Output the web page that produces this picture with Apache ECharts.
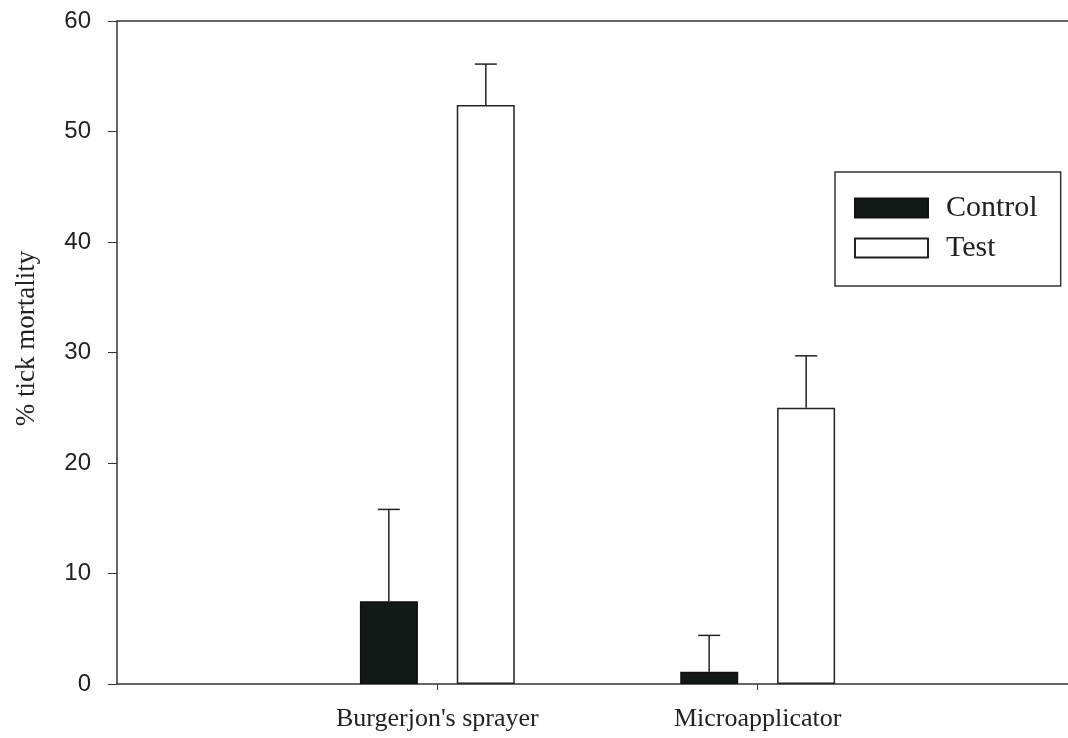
<!DOCTYPE html>
<html>
<head>
<meta charset="utf-8">
<script src="https://cdn.jsdelivr.net/npm/echarts@6/dist/echarts.min.js"></script>
<style>
  html, body { margin: 0; padding: 0; background: #fff; }
  #main { width: 1068px; height: 738px; }
</style>
</head>
<body>
<div id="main"></div>
<script>
  // categories (blank ends pad the axis like the original plot)
  var categories = ['', "Burgerjon's sprayer", 'Microapplicator', '']
  var controlMean = [null, 7.5, 1.1, null]
  var controlUpper = [null, 15.8, 4.4, null]
  var testMean = [null, 52.4, 25.0, null]
  var testUpper = [null, 56.1, 29.7, null]
  var yTicks = [0, 10, 20, 30, 40, 50, 60]

  var myChart = echarts.init(document.getElementById('main'))

  function errData(mean, upper) {
    var out = []
    for (var i = 0; i < mean.length; i++) {
      if (mean[i] != null) out.push([i, mean[i], upper[i]])
    }
    return out
  }

  function errRender(offset) {
    return function (params, api) {
      var bottom = api.coord([api.value(0), api.value(1)])
      var top = api.coord([api.value(0), api.value(2)])
      var x = bottom[0] + offset
      var style = { stroke: '#222', lineWidth: 1.5 }
      return {
        type: 'group',
        children: [
          { type: 'line', shape: { x1: x, y1: bottom[1], x2: x, y2: top[1] }, style: style },
          { type: 'line', shape: { x1: x - 11, y1: top[1], x2: x + 11, y2: top[1] }, style: style },
        ],
      }
    }
  }

  var serif = '"Liberation Serif", "Times New Roman", serif'
  var sans = '"Liberation Sans", Arial, sans-serif'

  var option = {
    animation: false,
    // plot runs past the right edge of the canvas, as in the original figure
    grid: { left: 117, width: 961, top: 21, bottom: 54, outerBoundsMode: 'none' },
    legend: {
      data: ['Control', 'Test'],
      orient: 'vertical',
      left: 835,
      top: 172,
      icon: 'rect',
      itemWidth: 73,
      itemHeight: 19,
      itemGap: 10,
      padding: [21, 23, 23, 19],
      borderColor: '#333',
      borderWidth: 1.5,
      textStyle: {
        fontFamily: serif,
        fontSize: 30,
        color: '#222',
        lineHeight: 20,
        padding: [0, 0, 0, 13],
      },
    },
    xAxis: [
      {
        type: 'category',
        data: categories,
        boundaryGap: false,
        axisLine: { lineStyle: { color: '#333', width: 1.5 } },
        axisTick: {
          length: 6,
          interval: function (i) { return i === 1 || i === 2 },
          lineStyle: { color: '#333' },
        },
        axisLabel: {
          interval: 0,
          margin: 22,
          fontFamily: serif,
          fontSize: 26,
          color: '#222',
        },
      },
      {
        type: 'category',
        position: 'top',
        data: categories,
        boundaryGap: false,
        axisLine: { lineStyle: { color: '#333', width: 1.5 } },
        axisTick: { show: false },
        axisLabel: { show: false },
      },
    ],
    yAxis: {
      type: 'value',
      min: yTicks[0],
      max: yTicks[yTicks.length - 1],
      interval: 10,
      name: '% tick mortality',
      nameLocation: 'middle',
      nameRotate: 90,
      nameGap: 77,
      nameTextStyle: {
        fontFamily: serif,
        fontSize: 27,
        color: '#222',
        padding: [0, 0, 0, 28],
      },
      axisLine: { show: true, lineStyle: { color: '#333', width: 1.5 } },
      axisTick: { show: true, length: 9, lineStyle: { color: '#333' } },
      axisLabel: { margin: 26, fontFamily: sans, fontSize: 24, color: '#222' },
      splitLine: { show: false },
    },
    series: [
      {
        name: 'Control',
        type: 'bar',
        data: controlMean,
        barWidth: 58,
        barGap: '67%',
        itemStyle: { color: '#111a17', borderColor: '#111', borderWidth: 1.5 },
      },
      {
        name: 'Test',
        type: 'bar',
        data: testMean,
        barWidth: 58,
        barGap: '67%',
        itemStyle: { color: '#ffffff', borderColor: '#222', borderWidth: 1.5 },
      },
      {
        name: 'Control err',
        type: 'custom',
        data: errData(controlMean, controlUpper),
        renderItem: errRender(-48.5),
        z: 1,
      },
      {
        name: 'Test err',
        type: 'custom',
        data: errData(testMean, testUpper),
        renderItem: errRender(48.5),
        z: 1,
      },
    ],
  }

  myChart.setOption(option)
  window.addEventListener('resize', function () {
    myChart.resize()
  })
</script>
</body>
</html>
